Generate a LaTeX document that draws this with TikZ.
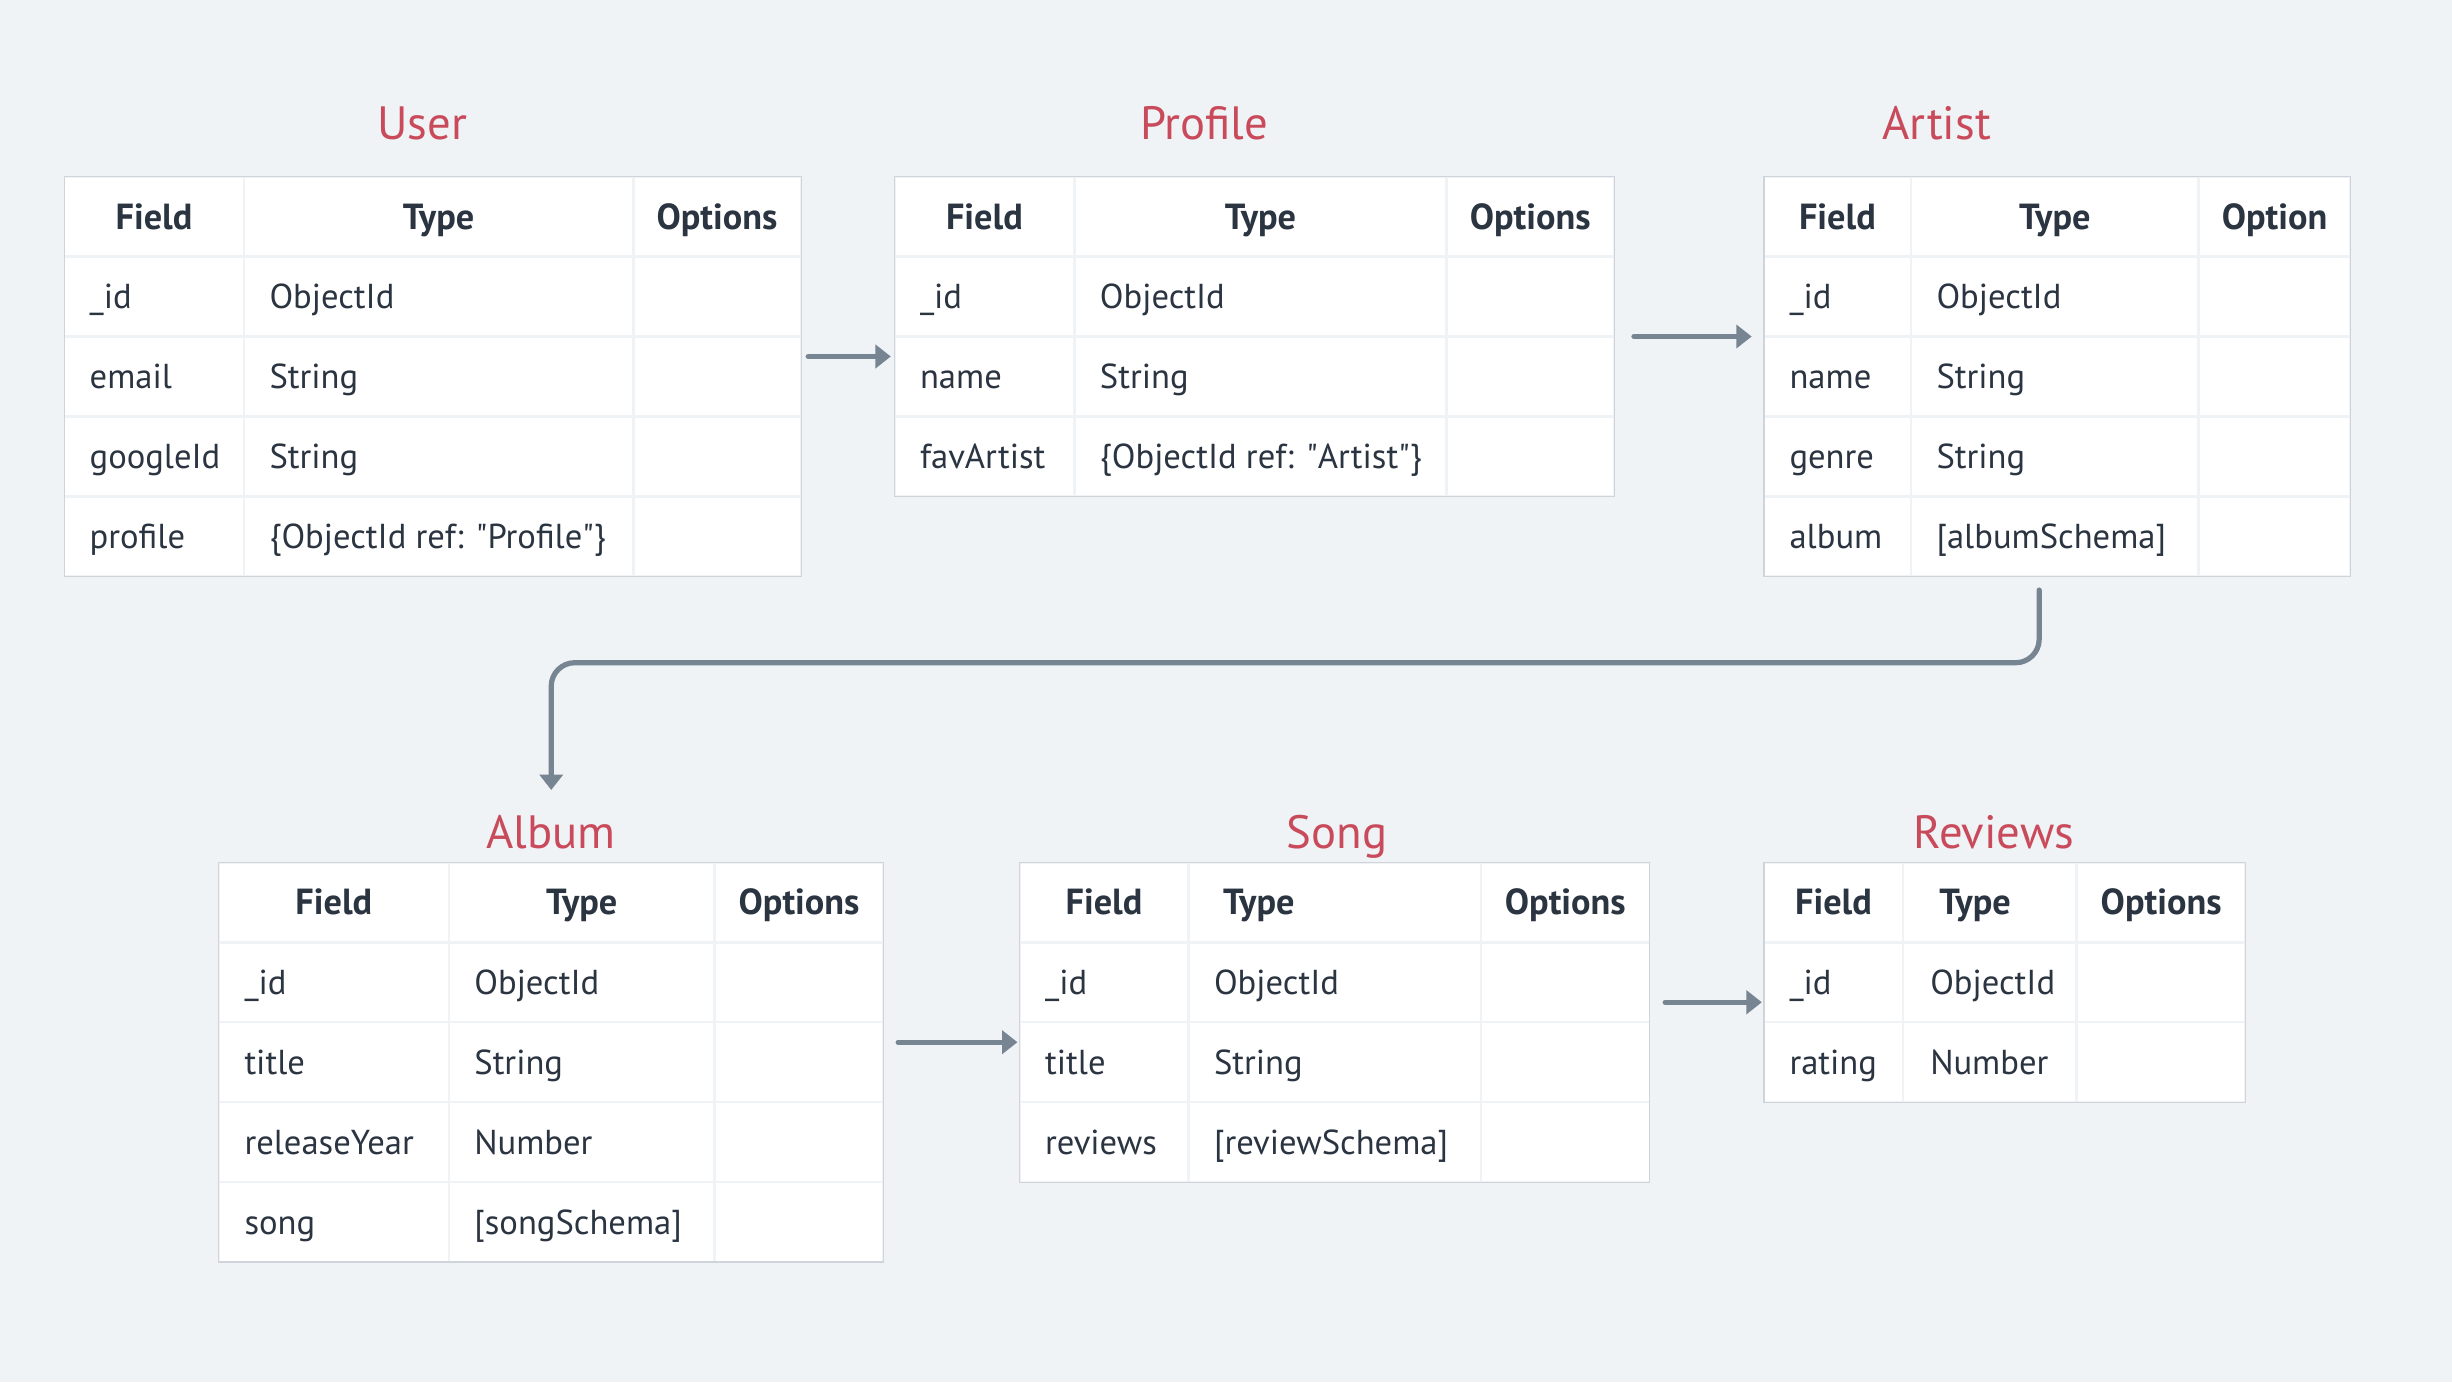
\documentclass[tikz,border=0pt]{standalone}
\usepackage{fontspec}
\setmainfont{PT Sans}
\usetikzlibrary{positioning, arrows.meta, calc, fit}
\definecolor{paper}{HTML}{EFF3F6}
\definecolor{ink}{HTML}{2B3441}
\definecolor{rose}{HTML}{C94B5B}
\definecolor{slate}{HTML}{778491}
\definecolor{rule}{HTML}{CFD4DA}

\begin{document}
\begin{tikzpicture}[x=0.02cm, y=-0.02cm, font=\fontsize{12.6}{14}\selectfont]
                \tikzstyle{title} = [anchor=base, text=rose, font=\fontsize{17}{20}\selectfont]
                \tikzstyle{frame} = [draw=rule, line width=0.4pt, inner sep=0pt]
                \tikzstyle{cell} = [fill=white, draw=paper, line width=0.9pt]
                \tikzstyle{head} = [anchor=base, text=ink, font=\fontsize{13.2}{15}\selectfont\bfseries]
                \tikzstyle{entry} = [anchor=base west, text=ink, inner sep=0pt]
                \tikzstyle{link} = [draw=slate, line width=1.9pt, line cap=round, -{Triangle[length=5.6pt, width=8.4pt]}]

                \fill[paper] (0,0) rectangle (1568,884);
                \useasboundingbox (0,0) rectangle (1568,884);

                % User
                \node[title] (user_t) at (270,89.5) {User};
                \foreach \a/\b in {41/156, 156/405, 405/512.5}
                    \foreach \r in {0,...,4}
                        \path[cell] (\a,113+\r*51.1) rectangle (\b,164.1+\r*51.1);
                \node[frame, fit={(41,113) (512.5,368.5)}] (user) {};
                \node[head] (user_h1) at (98.5,146.5) {Field};
                \node[head] (user_h2) at (280.5,146.5) {Type};
                \node[head] (user_h3) at (458.5,146.5) {Options};
                \foreach \f/\t [count=\i] in {\_id/ObjectId, email/String, googleId/String, profile/{\{ObjectId ref: \textquotedbl Profile\textquotedbl\}}} {
                    \node[entry] (user_f\i) at (57,146.5+\i*51.1) {\f};
                    \node[entry] (user_y\i) at (172,146.5+\i*51.1) {\t};
                }

                % Profile
                \node[title] (profile_t) at (770,89.5) {Profile};
                \foreach \a/\b in {572/687, 687/925, 925/1032.5}
                    \foreach \r in {0,...,3}
                        \path[cell] (\a,113+\r*51.1) rectangle (\b,164.1+\r*51.1);
                \node[frame, fit={(572,113) (1032.5,317.4)}] (profile) {};
                \node[head] (profile_h1) at (629.5,146.5) {Field};
                \node[head] (profile_h2) at (806,146.5) {Type};
                \node[head] (profile_h3) at (978.5,146.5) {Options};
                \foreach \f/\t [count=\i] in {\_id/ObjectId, name/String, favArtist/{\{ObjectId ref: \textquotedbl Artist\textquotedbl\}}} {
                    \node[entry] (profile_f\i) at (588,146.5+\i*51.1) {\f};
                    \node[entry] (profile_y\i) at (703,146.5+\i*51.1) {\t};
                }

                % Artist
                \node[title] (artist_t) at (1238.5,89.5) {Artist};
                \foreach \a/\b in {1128/1222, 1222/1406, 1406/1503}
                    \foreach \r in {0,...,4}
                        \path[cell] (\a,113+\r*51.1) rectangle (\b,164.1+\r*51.1);
                \node[frame, fit={(1128,113) (1503,368.5)}] (artist) {};
                \node[head] (artist_h1) at (1175,146.5) {Field};
                \node[head] (artist_h2) at (1314,146.5) {Type};
                \node[head] (artist_h3) at (1454.5,146.5) {Option};
                \foreach \f/\t [count=\i] in {\_id/ObjectId, name/String, genre/String, album/[albumSchema]} {
                    \node[entry] (artist_f\i) at (1144,146.5+\i*51.1) {\f};
                    \node[entry] (artist_y\i) at (1238,146.5+\i*51.1) {\t};
                }

                % Album
                \node[title] (album_t) at (352.4,542.5) {Album};
                \foreach \a/\b in {140/287, 287/457, 457/565}
                    \foreach \r in {0,...,4}
                        \path[cell] (\a,551.5+\r*51.1) rectangle (\b,602.6+\r*51.1);
                \node[frame, fit={(140,551.5) (565,807)}] (album) {};
                \node[head] (album_h1) at (213.5,585) {Field};
                \node[head] (album_h2) at (372,585) {Type};
                \node[head] (album_h3) at (511,585) {Options};
                \foreach \f/\t [count=\i] in {\_id/ObjectId, title/String, releaseYear/Number, song/[songSchema]} {
                    \node[entry] (album_f\i) at (156,585+\i*51.1) {\f};
                    \node[entry] (album_y\i) at (303,585+\i*51.1) {\t};
                }

                % Song
                \node[title] (song_t) at (855,542.5) {Song};
                \foreach \a/\b in {652/760, 760/947, 947/1055}
                    \foreach \r in {0,...,3}
                        \path[cell] (\a,551.5+\r*51.1) rectangle (\b,602.6+\r*51.1);
                \node[frame, fit={(652,551.5) (1055,755.9)}] (song) {};
                \node[head] (song_h1) at (706,585) {Field};
                \node[head, anchor=base west] (song_h2) at (776,585) {Type};
                \node[head] (song_h3) at (1001,585) {Options};
                \foreach \f/\t [count=\i] in {\_id/ObjectId, title/String, reviews/[reviewSchema]} {
                    \node[entry] (song_f\i) at (668,585+\i*51.1) {\f};
                    \node[entry] (song_y\i) at (776,585+\i*51.1) {\t};
                }

                % Reviews
                \node[title] (reviews_t) at (1275,542.5) {Reviews};
                \foreach \a/\b in {1128/1217, 1217/1328, 1328/1436}
                    \foreach \r in {0,...,2}
                        \path[cell] (\a,551.5+\r*51.1) rectangle (\b,602.6+\r*51.1);
                \node[frame, fit={(1128,551.5) (1436,704.8)}] (reviews) {};
                \node[head] (reviews_h1) at (1172.5,585) {Field};
                \node[head, anchor=base west] (reviews_h2) at (1234,585) {Type};
                \node[head] (reviews_h3) at (1382,585) {Options};
                \foreach \f/\t [count=\i] in {\_id/ObjectId, rating/Number} {
                    \node[entry] (reviews_f\i) at (1144,585+\i*51.1) {\f};
                    \node[entry] (reviews_y\i) at (1234,585+\i*51.1) {\t};
                }

                % Arrows
                \coordinate (up) at ($(user.east)!.5!(profile.west)$);
                \coordinate (as) at ($(album.east)!.5!(song.west)$);
                \coordinate (sr) at ($(song.east)!.5!(reviews.west)$);
                \coordinate (bend) at (800,423.8);
                \draw[link] ([xshift=0.08cm]user.east |- up) -- ([xshift=-0.04cm]profile.west |- up);
                \draw[link] ([xshift=0.24cm]profile.east) -- ([xshift=-0.15cm]artist.west |- profile.east);
                \draw[link, rounded corners=0.3cm] ([xshift=-0.23cm, yshift=-0.17cm]artist.south) |- (bend) -| ([yshift=0.92cm]album.north);
                \draw[link] ([xshift=0.18cm]album.east |- as) -- ([xshift=-0.02cm]song.west |- as);
                \draw[link] ([xshift=0.19cm]song.east |- sr) -- ([xshift=-0.02cm]reviews.west |- sr);
\end{tikzpicture}
\end{document}
